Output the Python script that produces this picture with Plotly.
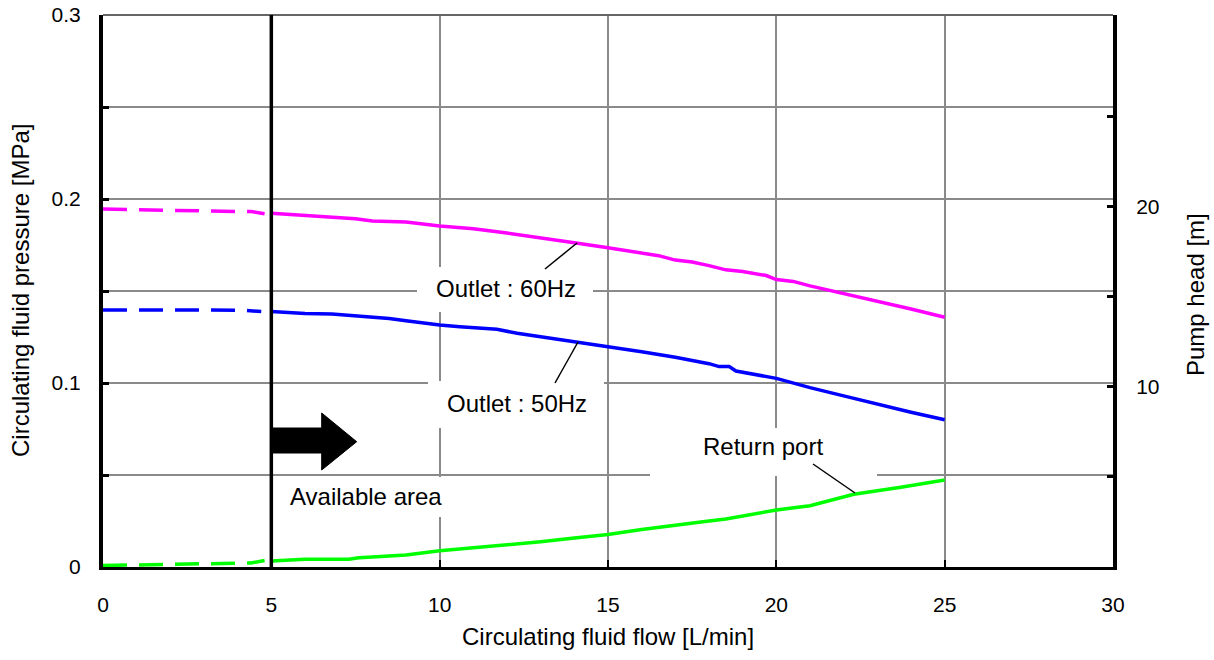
import plotly.graph_objects as go

# ---------------- data ----------------
x_60_dash = [0, 1, 2, 3, 4, 4.4, 4.8]
y_60_dash = [0.1946, 0.1942, 0.1935, 0.1935, 0.1932, 0.1932, 0.1920]
x_60 = [5, 6, 7, 7.5, 8, 9, 10, 11, 12, 13, 14, 15, 16, 16.5, 17, 17.5, 18, 18.5, 19, 19.7, 20, 20.5, 21, 22, 23, 24, 25]
y_60 = [0.1922, 0.1910, 0.1898, 0.1893, 0.1880, 0.1875, 0.1853, 0.1838, 0.1815, 0.1790, 0.1762, 0.1735, 0.1704,
        0.1692, 0.1668, 0.1658, 0.1638, 0.1615, 0.1606, 0.1584, 0.1562, 0.1552, 0.1528, 0.1487, 0.1444, 0.1402, 0.1357]

x_50_dash = [0, 1, 2, 3, 3.6, 4.1, 4.7]
y_50_dash = [0.1397, 0.1397, 0.1397, 0.1397, 0.1397, 0.1396, 0.1388]
x_50 = [5, 6, 6.8, 7.5, 8, 8.5, 9, 9.5, 10, 10.6, 11, 11.7, 12.3, 13, 14, 15, 16, 17, 18, 18.3, 18.6, 18.8, 20, 21, 22, 23, 24, 25]
y_50 = [0.1388, 0.1378, 0.1375, 0.1365, 0.1358, 0.1351, 0.1338, 0.1326, 0.1315, 0.1306, 0.1302, 0.1292, 0.1270,
        0.1252, 0.1224, 0.1197, 0.1170, 0.1140, 0.1105, 0.1089, 0.1089, 0.1065, 0.1025, 0.0975, 0.0930, 0.0884,
        0.0841, 0.0800]

x_ret_dash = [0, 1, 2, 3, 4, 4.4, 4.8]
y_ret_dash = [0.0008, 0.0012, 0.0015, 0.0018, 0.0020, 0.0022, 0.0035]
x_ret = [5, 6, 7.3, 7.6, 8, 9, 10, 11, 12, 13, 14, 15, 16, 17, 18, 18.5, 20, 21, 22.3, 23.7, 25]
y_ret = [0.0032, 0.0042, 0.0042, 0.0050, 0.0055, 0.0065, 0.0088, 0.0103, 0.0118, 0.0137, 0.0157, 0.0177, 0.0204,
         0.0229, 0.0250, 0.0261, 0.0310, 0.0333, 0.0395, 0.0433, 0.0473]

x_ticks = [0, 5, 10, 15, 20, 25, 30]
y_ticks = [0, 0.05, 0.1, 0.15, 0.2, 0.25, 0.3]
y_tick_text = ["0", "", "0.1", "", "0.2", "", "0.3"]
y2_ticks = [5, 10, 15, 20, 25]
y2_tick_text = ["", "10", "", "20", ""]

label_60 = "Outlet : 60Hz"
label_50 = "Outlet : 50Hz"
label_ret = "Return port"
label_area = "Available area"

# ---------------- layout helpers (pixel -> data for decorations) ----------------
W, H = 1214, 660
L, R, T, B = 103, 101, 15, 93
X0, X1 = 0, 30
Y0, Y1 = 0, 0.3
pw, ph = W - L - R, H - T - B


def dx(px):
    return X0 + (px - L) / pw * (X1 - X0)


def dy(py):
    return Y0 + (H - B - py) / ph * (Y1 - Y0)


FONT = "Liberation Sans, Arial, sans-serif"
MAG = "#ff00ff"
BLUE = "#0000ff"
GREEN = "#00ff00"
DASH = "24px,12px"
LW = 3.5
TXT = 24
GRID = "#8a8a8a"

fig = go.Figure()

for xs, ys, col in [(x_60_dash, y_60_dash, MAG), (x_50_dash, y_50_dash, BLUE), (x_ret_dash, y_ret_dash, GREEN)]:
    fig.add_trace(go.Scatter(x=xs, y=ys, mode="lines", line=dict(color=col, width=LW, dash=DASH),
                             showlegend=False, hoverinfo="skip"))
for xs, ys, col in [(x_60, y_60, MAG), (x_50, y_50, BLUE), (x_ret, y_ret, GREEN)]:
    fig.add_trace(go.Scatter(x=xs, y=ys, mode="lines", line=dict(color=col, width=LW),
                             showlegend=False))

fig.add_trace(go.Scatter(x=[], y=[], yaxis="y2", showlegend=False))

shapes = []
# white boxes behind labels (above grid, below traces)
for (a, b, c, d) in [(417, 267, 593, 312), (428, 381, 604, 428), (650, 428, 877, 476), (276, 477, 460, 517)]:
    shapes.append(dict(type="rect", xref="x", yref="y", x0=dx(a), x1=dx(c), y0=dy(d), y1=dy(b),
                       fillcolor="white", line=dict(width=0), layer="between"))
# top border
shapes.append(dict(type="line", xref="paper", yref="paper", x0=0, x1=1, y0=1, y1=1,
                   line=dict(color="#666666", width=2), layer="above"))
# boundary line at 5 L/min
shapes.append(dict(type="line", xref="x", yref="y", x0=5, x1=5, y0=0, y1=0.3,
                   line=dict(color="black", width=3.5), layer="above"))
# block arrow
ax0, ax1, ax2 = 5, dx(321.7), dx(356.7)
ya, yb, yc, yd, ye = dy(413), dy(428), dy(441.7), dy(453), dy(470)
path = (f"M {ax0},{yb} L {ax1},{yb} L {ax1},{ya} L {ax2},{yc} L {ax1},{ye} L {ax1},{yd} L {ax0},{yd} Z")
shapes.append(dict(type="path", xref="x", yref="y", path=path, fillcolor="black",
                   line=dict(color="black", width=1), layer="above"))
# leader lines
for (a, b, c, d) in [(545, 269, 577, 243), (555, 383, 578, 342), (813, 464, 855, 493)]:
    shapes.append(dict(type="line", xref="x", yref="y", x0=dx(a), y0=dy(b), x1=dx(c), y1=dy(d),
                       line=dict(color="black", width=1.5), layer="above"))

annotations = []
for text, cx, cy in [(label_60, 506, 288), (label_50, 516.5, 403), (label_ret, 763, 446), (label_area, 365.5, 496)]:
    annotations.append(dict(text=text, x=dx(cx), y=dy(cy), xref="x", yref="y", showarrow=False,
                            xanchor="center", yanchor="middle", font=dict(size=TXT, color="black", family=FONT)))
# axis titles
annotations.append(dict(text="Circulating fluid flow [L/min]", xref="paper", yref="paper", x=0.5, y=0,
                        yshift=-69, xanchor="center", yanchor="middle", showarrow=False,
                        font=dict(size=TXT, color="black", family=FONT)))
annotations.append(dict(text="Circulating fluid pressure [MPa]", xref="paper", yref="paper", x=0, y=0.5,
                        xshift=-83, xanchor="center", yanchor="middle", showarrow=False, textangle=-90,
                        font=dict(size=TXT, color="black", family=FONT)))
annotations.append(dict(text="Pump head [m]", xref="paper", yref="paper", x=1, y=0.5,
                        xshift=82, yshift=-4, xanchor="center", yanchor="middle", showarrow=False, textangle=-90,
                        font=dict(size=TXT, color="black", family=FONT)))

fig.update_layout(
    width=W, height=H,
    margin=dict(l=L, r=R, t=T, b=B, autoexpand=False),
    paper_bgcolor="white", plot_bgcolor="white",
    font=dict(family=FONT, size=21, color="black"),
    xaxis=dict(range=[X0, X1], tickvals=x_ticks, ticktext=[str(v) for v in x_ticks],
               showgrid=True, gridcolor=GRID, gridwidth=1.5, zeroline=False,
               showline=True, linecolor="black", linewidth=2.5,
               ticks="inside", ticklen=7, tickwidth=2, tickcolor="black",
               ticklabelstandoff=17, tickfont=dict(size=21)),
    yaxis=dict(range=[Y0, Y1], tickvals=y_ticks, ticktext=y_tick_text,
               showgrid=True, gridcolor=GRID, gridwidth=1.5, zeroline=False,
               showline=True, linecolor="black", linewidth=4,
               ticks="inside", ticklen=6, tickwidth=3, tickcolor="black",
               ticklabelstandoff=14, tickfont=dict(size=21)),
    yaxis2=dict(range=[0, 30.6], overlaying="y", side="right", tickvals=y2_ticks, ticktext=y2_tick_text,
                showgrid=False, zeroline=False, showline=True, linecolor="black", linewidth=4,
                ticks="inside", ticklen=6, tickwidth=3, tickcolor="black",
                ticklabelstandoff=15, tickfont=dict(size=21)),
    shapes=shapes,
    annotations=annotations,
)

fig.write_html("out.html", config={"displayModeBar": False},
               post_script="document.body.style.margin='0';document.body.style.padding='0';")
